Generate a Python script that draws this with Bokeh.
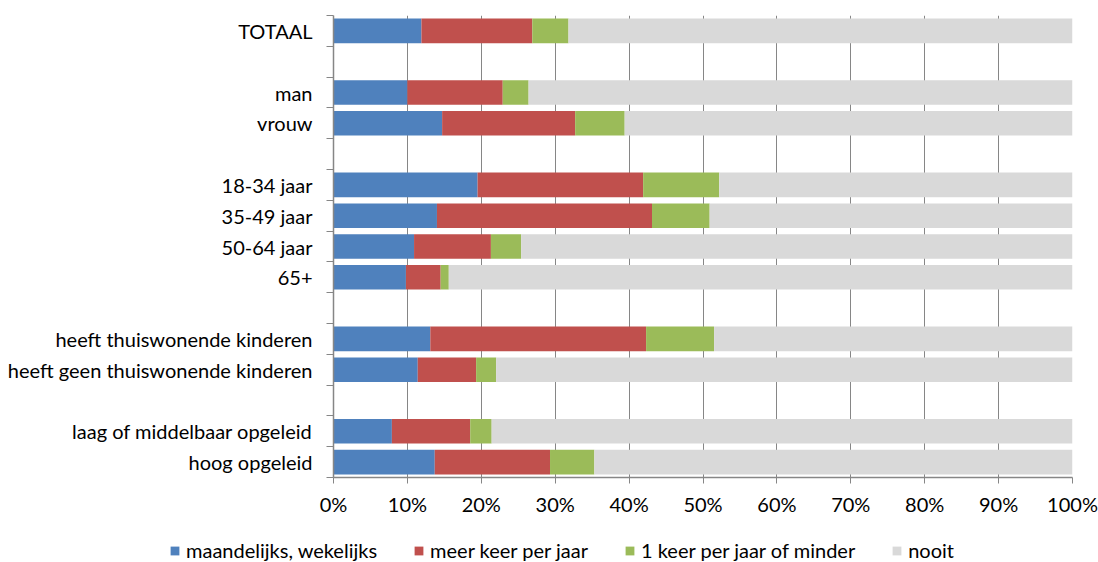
from bokeh.plotting import figure
from bokeh.layouts import column
from bokeh.models import FixedTicker, Legend, LegendItem, ColumnDataSource, NumeralTickFormatter
from bokeh.embed import file_html
from bokeh.resources import INLINE

# Rows from top to bottom; "" marks an empty spacer row
categories = ["TOTAAL", "", "man", "vrouw", "", "18-34 jaar", "35-49 jaar", "50-64 jaar", "65+", "",
              "heeft thuiswonende kinderen", "heeft geen thuiswonende kinderen", "",
              "laag of middelbaar opgeleid", "hoog opgeleid"]
maandelijks = [11.9, None, 10.0, 14.7, None, 19.5, 14.0, 10.9, 9.8, None, 13.1, 11.4, None, 7.9, 13.7]
meer_keer = [15.0, None, 12.9, 18.0, None, 22.4, 29.1, 10.4, 4.7, None, 29.2, 7.9, None, 10.6, 15.6]
een_keer = [4.9, None, 3.5, 6.7, None, 10.3, 7.8, 4.1, 1.1, None, 9.2, 2.7, None, 2.9, 6.0]
nooit = [68.2, None, 73.6, 60.6, None, 47.8, 49.1, 74.6, 84.4, None, 48.5, 78.0, None, 78.6, 64.7]

series_names = ["maandelijks, wekelijks", "meer keer per jaar", "1 keer per jaar of minder", "nooit"]
colors = ["#4F81BD", "#C0504D", "#9BBB59", "#D9D9D9"]
x_ticks = [0, 10, 20, 30, 40, 50, 60, 70, 80, 90, 100]

n = len(categories)
rows = [i for i, c in enumerate(categories) if c]
ys = [n - 1 - i for i in rows]
stackers = ["s0", "s1", "s2", "s3"]
data = dict(
    y=ys,
    s0=[maandelijks[i] / 100 for i in rows],
    s1=[meer_keer[i] / 100 for i in rows],
    s2=[een_keer[i] / 100 for i in rows],
    s3=[nooit[i] / 100 for i in rows],
)
source = ColumnDataSource(data)

FONT = "Lato"
FS = "20px"
GREY = "#868686"
W = 1098

p = figure(width=W, height=524, output_backend="svg", toolbar_location=None,
           x_range=(0, 1), y_range=(-0.5, n - 0.5),
           min_border_left=333, min_border_right=W - 1072, min_border_top=15, min_border_bottom=47)
p.outline_line_color = None
p.background_fill_color = "white"
p.border_fill_color = "white"

renderers = p.hbar_stack(stackers, y="y", height=0.8, color=colors, line_color=None, source=source)

# x axis
p.xaxis.ticker = FixedTicker(ticks=[t / 100 for t in x_ticks])
p.xaxis.formatter = NumeralTickFormatter(format="0%")
p.xaxis.axis_line_color = GREY
p.xaxis.axis_line_width = 1.5
p.xaxis.major_tick_line_color = GREY
p.xaxis.major_tick_out = 6
p.xaxis.major_tick_in = 0
p.xaxis.minor_tick_line_color = None
p.xaxis.major_label_text_font = FONT
p.xaxis.major_label_text_font_size = FS
p.xaxis.major_label_text_color = "black"
p.xaxis.major_label_standoff = 8

# y axis: labels at row centers, ticks at row boundaries
p.yaxis.ticker = FixedTicker(ticks=ys, minor_ticks=[k - 0.5 for k in range(n + 1)])
p.yaxis.major_label_overrides = {y: categories[i] for y, i in zip(ys, rows)}
p.yaxis.axis_line_color = GREY
p.yaxis.axis_line_width = 1.5
p.yaxis.major_tick_line_color = None
p.yaxis.major_tick_out = 0
p.yaxis.major_tick_in = 0
p.yaxis.minor_tick_line_color = GREY
p.yaxis.minor_tick_out = 7
p.yaxis.minor_tick_in = 0
p.yaxis.major_label_text_font = FONT
p.yaxis.major_label_text_font_size = FS
p.yaxis.major_label_text_color = "black"
p.yaxis.major_label_standoff = 14

p.xgrid.ticker = FixedTicker(ticks=[t / 100 for t in x_ticks])
p.xgrid.grid_line_color = GREY
p.xgrid.grid_line_width = 1
p.ygrid.grid_line_color = None

# legend strip below the chart (same series; its view is scrolled far away from the bars)
pl = figure(width=W, height=38, output_backend="svg", toolbar_location=None,
            x_range=(50, 51), y_range=(50, 51), x_axis_location=None, y_axis_location=None,
            min_border_left=0, min_border_right=0, min_border_top=0, min_border_bottom=0)
pl.outline_line_color = None
pl.grid.grid_line_color = None
pl.border_fill_color = "white"
pl.background_fill_color = "white"
legend_renderers = pl.hbar_stack(stackers, y="y", height=0.8, color=colors, line_color=None, source=source)
legend = Legend(items=[LegendItem(label=nm, renderers=[r]) for nm, r in zip(series_names, legend_renderers)],
                orientation="horizontal", location=(169, 0), margin=0, padding=0,
                glyph_width=11, glyph_height=11, label_standoff=6, spacing=36,
                label_text_font=FONT, label_text_font_size=FS, label_text_color="black",
                border_line_color=None, background_fill_alpha=0)
pl.add_layout(legend, "center")

layout = column(p, column(pl), spacing=0)
open("out.html", "w").write(file_html(layout, INLINE))
